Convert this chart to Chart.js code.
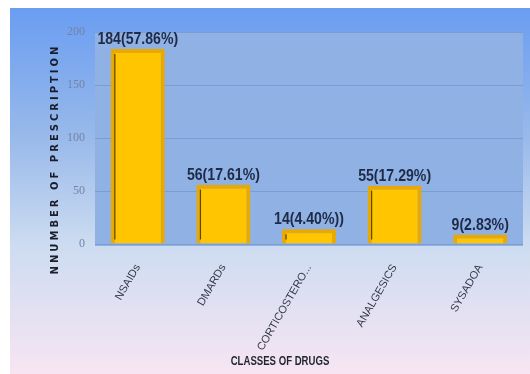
<!DOCTYPE html>
<html>
<head>
<meta charset="utf-8">
<script src="https://cdn.jsdelivr.net/npm/chart.js@4.4.0/dist/chart.umd.min.js"></script>
<style>
  html, body { margin: 0; padding: 0; background: #fff; }
  .chart-box { position: relative; width: 530px; height: 374px; }
</style>
</head>
<body>
<div class="chart-box"><canvas id="chart" width="530" height="374"></canvas></div>
<script>
const categories = ['NSAIDs', 'DMARDs', 'CORTICOSTERO...', 'ANALGESICS', 'SYSADOA'];
const prescriptions = [184, 56, 14, 55, 9];
const barLabels = ['184(57.86%)', '56(17.61%)', '14(4.40%))', '55(17.29%)', '9(2.83%)'];
const yMax = 200;
const yStep = 50;
const xTitle = 'CLASSES OF DRUGS';
const yTitle = 'NNUMBER OF PRESCRIPTION';

// blue-to-pink panel behind everything, and the flat blue plot area
const backdrop = {
    id: 'backdrop',
    beforeDraw(chart) {
        const { ctx, width, height, chartArea } = chart;
        ctx.save();
        ctx.fillStyle = '#ffffff';
        ctx.fillRect(0, 0, width, height);
        const g = ctx.createLinearGradient(0, 8, 0, height);
        g.addColorStop(0, '#6a9df2');
        g.addColorStop(0.35, '#98b9ea');
        g.addColorStop(0.65, '#cddcf1');
        g.addColorStop(1, '#f7e5f2');
        ctx.fillStyle = g;
        ctx.fillRect(10, 8, width - 10, height - 8);
        ctx.fillStyle = '#90b1e3';
        ctx.fillRect(chartArea.left, chartArea.top, chartArea.right - chartArea.left, chartArea.bottom - chartArea.top + 2);
        ctx.restore();
    }
};

// dark inner edge on the left of each bar, like the bevel in the picture
const barEdges = {
    id: 'barEdges',
    afterDatasetsDraw(chart) {
        const { ctx } = chart;
        ctx.save();
        ctx.strokeStyle = '#5a4500';
        ctx.lineWidth = 1.2;
        chart.getDatasetMeta(0).data.forEach(bar => {
            const left = bar.x - bar.width / 2 + 4;
            ctx.beginPath();
            ctx.moveTo(left, bar.y + 5);
            ctx.lineTo(left, bar.base - 4);
            ctx.stroke();
        });
        ctx.restore();
    }
};

// narrow bold labels above the bars, axis titles (squeezed sideways, no condensed font installed)
const texts = {
    id: 'texts',
    afterDraw(chart) {
        const { ctx } = chart;
        const meta = chart.getDatasetMeta(0);
        ctx.save();
        ctx.font = 'bold 17px "Liberation Sans", sans-serif';
        ctx.fillStyle = '#1d2a48';
        ctx.textAlign = 'center';
        ctx.textBaseline = 'bottom';
        meta.data.forEach((bar, i) => {
            ctx.save();
            ctx.translate(bar.x, bar.y - 1);
            ctx.scale(0.83, 1);
            ctx.fillText(barLabels[i], 0, 0);
            ctx.restore();
        });

        ctx.textBaseline = 'middle';
        ctx.fillStyle = '#1f2430';
        ctx.font = 'bold 12px "Liberation Sans", sans-serif';
        ctx.save();
        ctx.translate(280, 362);
        ctx.scale(0.8, 1);
        ctx.fillText(xTitle, 0, 0);
        ctx.restore();

        ctx.fillStyle = '#1a1d2a';
        ctx.font = 'bold 10px "DejaVu Sans", sans-serif';
        ctx.letterSpacing = '3px';
        ctx.save();
        ctx.translate(55, 159);
        ctx.rotate(-Math.PI / 2);
        ctx.fillText(yTitle, 0, 0);
        ctx.restore();
        ctx.restore();
    }
};

new Chart(document.getElementById('chart'), {
    type: 'bar',
    data: {
        labels: categories,
        datasets: [{
            data: prescriptions,
            backgroundColor: '#ffc500',
            borderColor: '#e9a900',
            borderWidth: 4,
            categoryPercentage: 1,
            barPercentage: 0.63
        }]
    },
    options: {
        responsive: false,
        animation: false,
        layout: { padding: { left: 40, top: 32, right: 7, bottom: 8 } },
        plugins: { legend: { display: false }, tooltip: { enabled: false } },
        scales: {
            x: {
                afterFit(scale) { scale.height = 122; },
                grid: { display: false },
                border: { display: false },
                ticks: {
                    minRotation: 60,
                    maxRotation: 60,
                    padding: 10,
                    color: '#34374a',
                    font: { family: '"Liberation Sans", sans-serif', size: 11 }
                }
            },
            y: {
                min: 0,
                max: yMax,
                afterFit(scale) { scale.width = 55; },
                grid: { color: '#7c9dd2', drawTicks: false },
                border: { display: false },
                ticks: {
                    stepSize: yStep,
                    padding: 10,
                    color: '#7484a2',
                    font: { family: '"Liberation Serif", serif', size: 12 }
                }
            }
        }
    },
    plugins: [backdrop, barEdges, texts]
});
</script>
</body>
</html>
